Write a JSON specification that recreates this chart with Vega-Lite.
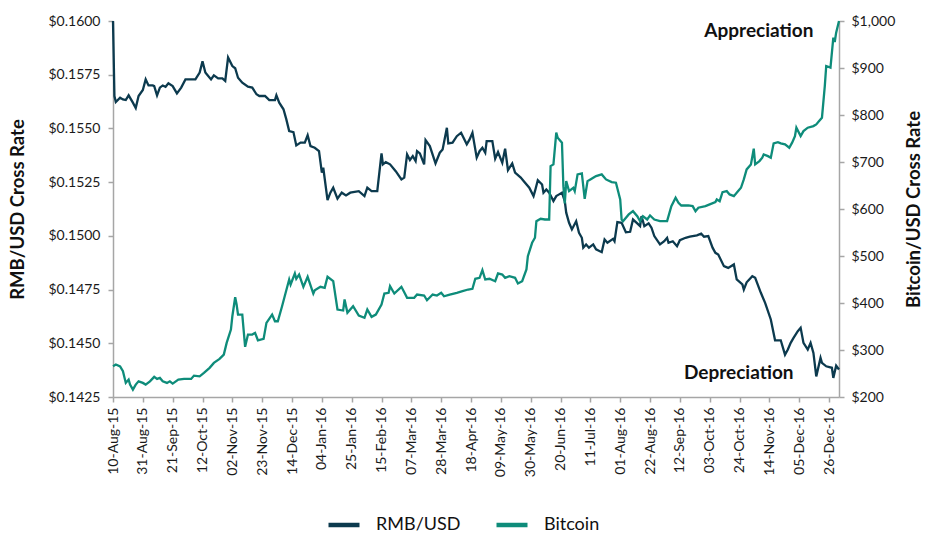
{
  "$schema": "https://vega.github.io/schema/vega-lite/v6.json",
  "width": 726,
  "height": 376,
  "autosize": {"type": "none"},
  "padding": {"left": 113, "top": 21, "right": 87, "bottom": 137},
  "background": "white",
  "config": {
    "font": "Lato",
    "view": {"stroke": null},
    "axis": {
      "grid": false,
      "domainColor": "#a6a6a6",
      "domainWidth": 1.5,
      "tickColor": "#a6a6a6",
      "tickWidth": 1.5,
      "tickSize": 5,
      "labelFont": "Lato",
      "labelFontSize": 14,
      "labelColor": "#1a1a1a",
      "titleFont": "Lato",
      "titleFontSize": 18.5,
      "titleFontWeight": "bold",
      "titleColor": "#111111"
    },
    "legend": {"labelFont": "Lato"}
  },
  "datasets": {
    "rmb": [
      {"date": "2015-08-10", "series": "RMB/USD", "value": 0.16},
      {"date": "2015-08-11", "series": "RMB/USD", "value": 0.15651},
      {"date": "2015-08-12", "series": "RMB/USD", "value": 0.15623},
      {"date": "2015-08-15", "series": "RMB/USD", "value": 0.15643},
      {"date": "2015-08-17", "series": "RMB/USD", "value": 0.15635},
      {"date": "2015-08-19", "series": "RMB/USD", "value": 0.15632},
      {"date": "2015-08-21", "series": "RMB/USD", "value": 0.15654},
      {"date": "2015-08-24", "series": "RMB/USD", "value": 0.1562},
      {"date": "2015-08-26", "series": "RMB/USD", "value": 0.15595},
      {"date": "2015-08-28", "series": "RMB/USD", "value": 0.15651},
      {"date": "2015-08-31", "series": "RMB/USD", "value": 0.15679},
      {"date": "2015-09-02", "series": "RMB/USD", "value": 0.15728},
      {"date": "2015-09-04", "series": "RMB/USD", "value": 0.157},
      {"date": "2015-09-07", "series": "RMB/USD", "value": 0.157},
      {"date": "2015-09-08", "series": "RMB/USD", "value": 0.15697},
      {"date": "2015-09-10", "series": "RMB/USD", "value": 0.15654},
      {"date": "2015-09-12", "series": "RMB/USD", "value": 0.1569},
      {"date": "2015-09-14", "series": "RMB/USD", "value": 0.157},
      {"date": "2015-09-16", "series": "RMB/USD", "value": 0.15694},
      {"date": "2015-09-18", "series": "RMB/USD", "value": 0.1571},
      {"date": "2015-09-21", "series": "RMB/USD", "value": 0.15697},
      {"date": "2015-09-24", "series": "RMB/USD", "value": 0.15663},
      {"date": "2015-09-27", "series": "RMB/USD", "value": 0.1569},
      {"date": "2015-09-30", "series": "RMB/USD", "value": 0.15728},
      {"date": "2015-10-04", "series": "RMB/USD", "value": 0.15728},
      {"date": "2015-10-07", "series": "RMB/USD", "value": 0.15728},
      {"date": "2015-10-10", "series": "RMB/USD", "value": 0.1576},
      {"date": "2015-10-12", "series": "RMB/USD", "value": 0.15812},
      {"date": "2015-10-14", "series": "RMB/USD", "value": 0.1576},
      {"date": "2015-10-15", "series": "RMB/USD", "value": 0.15752},
      {"date": "2015-10-18", "series": "RMB/USD", "value": 0.15728},
      {"date": "2015-10-20", "series": "RMB/USD", "value": 0.15747},
      {"date": "2015-10-23", "series": "RMB/USD", "value": 0.15733},
      {"date": "2015-10-26", "series": "RMB/USD", "value": 0.15733},
      {"date": "2015-10-28", "series": "RMB/USD", "value": 0.15721},
      {"date": "2015-10-30", "series": "RMB/USD", "value": 0.1583},
      {"date": "2015-11-02", "series": "RMB/USD", "value": 0.1579},
      {"date": "2015-11-04", "series": "RMB/USD", "value": 0.1578},
      {"date": "2015-11-06", "series": "RMB/USD", "value": 0.15736},
      {"date": "2015-11-09", "series": "RMB/USD", "value": 0.15713},
      {"date": "2015-11-13", "series": "RMB/USD", "value": 0.15694},
      {"date": "2015-11-16", "series": "RMB/USD", "value": 0.1569},
      {"date": "2015-11-19", "series": "RMB/USD", "value": 0.15659},
      {"date": "2015-11-21", "series": "RMB/USD", "value": 0.15651},
      {"date": "2015-11-25", "series": "RMB/USD", "value": 0.15651},
      {"date": "2015-11-28", "series": "RMB/USD", "value": 0.15632},
      {"date": "2015-12-02", "series": "RMB/USD", "value": 0.15632},
      {"date": "2015-12-03", "series": "RMB/USD", "value": 0.15654},
      {"date": "2015-12-05", "series": "RMB/USD", "value": 0.1562},
      {"date": "2015-12-08", "series": "RMB/USD", "value": 0.15589},
      {"date": "2015-12-10", "series": "RMB/USD", "value": 0.15542},
      {"date": "2015-12-12", "series": "RMB/USD", "value": 0.15488},
      {"date": "2015-12-15", "series": "RMB/USD", "value": 0.15483},
      {"date": "2015-12-17", "series": "RMB/USD", "value": 0.15421},
      {"date": "2015-12-20", "series": "RMB/USD", "value": 0.15434},
      {"date": "2015-12-23", "series": "RMB/USD", "value": 0.15434},
      {"date": "2015-12-25", "series": "RMB/USD", "value": 0.15468},
      {"date": "2015-12-27", "series": "RMB/USD", "value": 0.15418},
      {"date": "2015-12-30", "series": "RMB/USD", "value": 0.1541},
      {"date": "2016-01-02", "series": "RMB/USD", "value": 0.15394},
      {"date": "2016-01-04", "series": "RMB/USD", "value": 0.15294},
      {"date": "2016-01-05", "series": "RMB/USD", "value": 0.15317},
      {"date": "2016-01-08", "series": "RMB/USD", "value": 0.15166},
      {"date": "2016-01-10", "series": "RMB/USD", "value": 0.15201},
      {"date": "2016-01-12", "series": "RMB/USD", "value": 0.15224},
      {"date": "2016-01-15", "series": "RMB/USD", "value": 0.15173},
      {"date": "2016-01-18", "series": "RMB/USD", "value": 0.15201},
      {"date": "2016-01-21", "series": "RMB/USD", "value": 0.15188},
      {"date": "2016-01-24", "series": "RMB/USD", "value": 0.15201},
      {"date": "2016-01-30", "series": "RMB/USD", "value": 0.15208},
      {"date": "2016-02-03", "series": "RMB/USD", "value": 0.15185},
      {"date": "2016-02-05", "series": "RMB/USD", "value": 0.15224},
      {"date": "2016-02-08", "series": "RMB/USD", "value": 0.15208},
      {"date": "2016-02-12", "series": "RMB/USD", "value": 0.15208},
      {"date": "2016-02-15", "series": "RMB/USD", "value": 0.15384},
      {"date": "2016-02-16", "series": "RMB/USD", "value": 0.15333},
      {"date": "2016-02-18", "series": "RMB/USD", "value": 0.15343},
      {"date": "2016-02-21", "series": "RMB/USD", "value": 0.15333},
      {"date": "2016-02-25", "series": "RMB/USD", "value": 0.15301},
      {"date": "2016-02-29", "series": "RMB/USD", "value": 0.15263},
      {"date": "2016-03-02", "series": "RMB/USD", "value": 0.15271},
      {"date": "2016-03-04", "series": "RMB/USD", "value": 0.15379},
      {"date": "2016-03-06", "series": "RMB/USD", "value": 0.15353},
      {"date": "2016-03-08", "series": "RMB/USD", "value": 0.15371},
      {"date": "2016-03-10", "series": "RMB/USD", "value": 0.15348},
      {"date": "2016-03-11", "series": "RMB/USD", "value": 0.15394},
      {"date": "2016-03-13", "series": "RMB/USD", "value": 0.15384},
      {"date": "2016-03-16", "series": "RMB/USD", "value": 0.15333},
      {"date": "2016-03-17", "series": "RMB/USD", "value": 0.15446},
      {"date": "2016-03-20", "series": "RMB/USD", "value": 0.15418},
      {"date": "2016-03-24", "series": "RMB/USD", "value": 0.15337},
      {"date": "2016-03-27", "series": "RMB/USD", "value": 0.15387},
      {"date": "2016-03-29", "series": "RMB/USD", "value": 0.15402},
      {"date": "2016-04-01", "series": "RMB/USD", "value": 0.15503},
      {"date": "2016-04-02", "series": "RMB/USD", "value": 0.1543},
      {"date": "2016-04-05", "series": "RMB/USD", "value": 0.15434},
      {"date": "2016-04-08", "series": "RMB/USD", "value": 0.15464},
      {"date": "2016-04-11", "series": "RMB/USD", "value": 0.1548},
      {"date": "2016-04-15", "series": "RMB/USD", "value": 0.15426},
      {"date": "2016-04-17", "series": "RMB/USD", "value": 0.15449},
      {"date": "2016-04-19", "series": "RMB/USD", "value": 0.1548},
      {"date": "2016-04-22", "series": "RMB/USD", "value": 0.15364},
      {"date": "2016-04-24", "series": "RMB/USD", "value": 0.15394},
      {"date": "2016-04-26", "series": "RMB/USD", "value": 0.1541},
      {"date": "2016-04-28", "series": "RMB/USD", "value": 0.15387},
      {"date": "2016-04-29", "series": "RMB/USD", "value": 0.15441},
      {"date": "2016-05-03", "series": "RMB/USD", "value": 0.15441},
      {"date": "2016-05-05", "series": "RMB/USD", "value": 0.15359},
      {"date": "2016-05-07", "series": "RMB/USD", "value": 0.1539},
      {"date": "2016-05-10", "series": "RMB/USD", "value": 0.1534},
      {"date": "2016-05-12", "series": "RMB/USD", "value": 0.15406},
      {"date": "2016-05-14", "series": "RMB/USD", "value": 0.15306},
      {"date": "2016-05-17", "series": "RMB/USD", "value": 0.15337},
      {"date": "2016-05-19", "series": "RMB/USD", "value": 0.15294},
      {"date": "2016-05-23", "series": "RMB/USD", "value": 0.15271},
      {"date": "2016-05-25", "series": "RMB/USD", "value": 0.15255},
      {"date": "2016-05-29", "series": "RMB/USD", "value": 0.15224},
      {"date": "2016-06-01", "series": "RMB/USD", "value": 0.15185},
      {"date": "2016-06-02", "series": "RMB/USD", "value": 0.15208},
      {"date": "2016-06-04", "series": "RMB/USD", "value": 0.15259},
      {"date": "2016-06-07", "series": "RMB/USD", "value": 0.15239},
      {"date": "2016-06-08", "series": "RMB/USD", "value": 0.15201},
      {"date": "2016-06-10", "series": "RMB/USD", "value": 0.15216},
      {"date": "2016-06-12", "series": "RMB/USD", "value": 0.15201},
      {"date": "2016-06-15", "series": "RMB/USD", "value": 0.15162},
      {"date": "2016-06-17", "series": "RMB/USD", "value": 0.15185},
      {"date": "2016-06-19", "series": "RMB/USD", "value": 0.15193},
      {"date": "2016-06-21", "series": "RMB/USD", "value": 0.15201},
      {"date": "2016-06-23", "series": "RMB/USD", "value": 0.15162},
      {"date": "2016-06-24", "series": "RMB/USD", "value": 0.15108},
      {"date": "2016-06-26", "series": "RMB/USD", "value": 0.15061},
      {"date": "2016-06-28", "series": "RMB/USD", "value": 0.1503},
      {"date": "2016-07-01", "series": "RMB/USD", "value": 0.15068},
      {"date": "2016-07-03", "series": "RMB/USD", "value": 0.15014},
      {"date": "2016-07-05", "series": "RMB/USD", "value": 0.14991},
      {"date": "2016-07-06", "series": "RMB/USD", "value": 0.14945},
      {"date": "2016-07-08", "series": "RMB/USD", "value": 0.1496},
      {"date": "2016-07-10", "series": "RMB/USD", "value": 0.14945},
      {"date": "2016-07-13", "series": "RMB/USD", "value": 0.1496},
      {"date": "2016-07-15", "series": "RMB/USD", "value": 0.14937},
      {"date": "2016-07-19", "series": "RMB/USD", "value": 0.14924},
      {"date": "2016-07-21", "series": "RMB/USD", "value": 0.14983},
      {"date": "2016-07-23", "series": "RMB/USD", "value": 0.14968},
      {"date": "2016-07-27", "series": "RMB/USD", "value": 0.14986},
      {"date": "2016-07-28", "series": "RMB/USD", "value": 0.14975},
      {"date": "2016-07-30", "series": "RMB/USD", "value": 0.15064},
      {"date": "2016-08-02", "series": "RMB/USD", "value": 0.15061},
      {"date": "2016-08-05", "series": "RMB/USD", "value": 0.15017},
      {"date": "2016-08-08", "series": "RMB/USD", "value": 0.15019},
      {"date": "2016-08-10", "series": "RMB/USD", "value": 0.15076},
      {"date": "2016-08-13", "series": "RMB/USD", "value": 0.15058},
      {"date": "2016-08-15", "series": "RMB/USD", "value": 0.15045},
      {"date": "2016-08-16", "series": "RMB/USD", "value": 0.15092},
      {"date": "2016-08-18", "series": "RMB/USD", "value": 0.15045},
      {"date": "2016-08-21", "series": "RMB/USD", "value": 0.15058},
      {"date": "2016-08-23", "series": "RMB/USD", "value": 0.15038},
      {"date": "2016-08-25", "series": "RMB/USD", "value": 0.14999},
      {"date": "2016-08-29", "series": "RMB/USD", "value": 0.1496},
      {"date": "2016-09-01", "series": "RMB/USD", "value": 0.14975},
      {"date": "2016-09-03", "series": "RMB/USD", "value": 0.14991},
      {"date": "2016-09-04", "series": "RMB/USD", "value": 0.14968},
      {"date": "2016-09-07", "series": "RMB/USD", "value": 0.14975},
      {"date": "2016-09-10", "series": "RMB/USD", "value": 0.14952},
      {"date": "2016-09-12", "series": "RMB/USD", "value": 0.1498},
      {"date": "2016-09-16", "series": "RMB/USD", "value": 0.14991},
      {"date": "2016-09-19", "series": "RMB/USD", "value": 0.14996},
      {"date": "2016-09-24", "series": "RMB/USD", "value": 0.15002},
      {"date": "2016-09-27", "series": "RMB/USD", "value": 0.1501},
      {"date": "2016-09-29", "series": "RMB/USD", "value": 0.14996},
      {"date": "2016-10-02", "series": "RMB/USD", "value": 0.14999},
      {"date": "2016-10-05", "series": "RMB/USD", "value": 0.14945},
      {"date": "2016-10-07", "series": "RMB/USD", "value": 0.14921},
      {"date": "2016-10-09", "series": "RMB/USD", "value": 0.14913},
      {"date": "2016-10-13", "series": "RMB/USD", "value": 0.14859},
      {"date": "2016-10-16", "series": "RMB/USD", "value": 0.14851},
      {"date": "2016-10-20", "series": "RMB/USD", "value": 0.14867},
      {"date": "2016-10-22", "series": "RMB/USD", "value": 0.14797},
      {"date": "2016-10-26", "series": "RMB/USD", "value": 0.14774},
      {"date": "2016-10-27", "series": "RMB/USD", "value": 0.1475},
      {"date": "2016-10-29", "series": "RMB/USD", "value": 0.14784},
      {"date": "2016-11-02", "series": "RMB/USD", "value": 0.14812},
      {"date": "2016-11-04", "series": "RMB/USD", "value": 0.14805},
      {"date": "2016-11-08", "series": "RMB/USD", "value": 0.14735},
      {"date": "2016-11-11", "series": "RMB/USD", "value": 0.14688},
      {"date": "2016-11-15", "series": "RMB/USD", "value": 0.14611},
      {"date": "2016-11-18", "series": "RMB/USD", "value": 0.14514},
      {"date": "2016-11-22", "series": "RMB/USD", "value": 0.14514},
      {"date": "2016-11-25", "series": "RMB/USD", "value": 0.14447},
      {"date": "2016-11-27", "series": "RMB/USD", "value": 0.14471},
      {"date": "2016-11-29", "series": "RMB/USD", "value": 0.14502},
      {"date": "2016-12-01", "series": "RMB/USD", "value": 0.14525},
      {"date": "2016-12-04", "series": "RMB/USD", "value": 0.14556},
      {"date": "2016-12-06", "series": "RMB/USD", "value": 0.14572},
      {"date": "2016-12-08", "series": "RMB/USD", "value": 0.14502},
      {"date": "2016-12-11", "series": "RMB/USD", "value": 0.14471},
      {"date": "2016-12-13", "series": "RMB/USD", "value": 0.14502},
      {"date": "2016-12-15", "series": "RMB/USD", "value": 0.14455},
      {"date": "2016-12-17", "series": "RMB/USD", "value": 0.14346},
      {"date": "2016-12-20", "series": "RMB/USD", "value": 0.14432},
      {"date": "2016-12-21", "series": "RMB/USD", "value": 0.14409},
      {"date": "2016-12-24", "series": "RMB/USD", "value": 0.14393},
      {"date": "2016-12-28", "series": "RMB/USD", "value": 0.14386},
      {"date": "2016-12-29", "series": "RMB/USD", "value": 0.14339},
      {"date": "2016-12-31", "series": "RMB/USD", "value": 0.14396},
      {"date": "2017-01-02", "series": "RMB/USD", "value": 0.14378}
    ],
    "btc": [
      {"date": "2015-08-10", "series": "Bitcoin", "value": 265.4},
      {"date": "2015-08-12", "series": "Bitcoin", "value": 269},
      {"date": "2015-08-15", "series": "Bitcoin", "value": 265},
      {"date": "2015-08-17", "series": "Bitcoin", "value": 254.7},
      {"date": "2015-08-19", "series": "Bitcoin", "value": 230},
      {"date": "2015-08-21", "series": "Bitcoin", "value": 237},
      {"date": "2015-08-22", "series": "Bitcoin", "value": 226.4},
      {"date": "2015-08-24", "series": "Bitcoin", "value": 215.7},
      {"date": "2015-08-26", "series": "Bitcoin", "value": 226.4},
      {"date": "2015-08-28", "series": "Bitcoin", "value": 233.4},
      {"date": "2015-08-31", "series": "Bitcoin", "value": 230},
      {"date": "2015-09-02", "series": "Bitcoin", "value": 226.4},
      {"date": "2015-09-05", "series": "Bitcoin", "value": 233.4},
      {"date": "2015-09-08", "series": "Bitcoin", "value": 242.8},
      {"date": "2015-09-10", "series": "Bitcoin", "value": 238.5},
      {"date": "2015-09-12", "series": "Bitcoin", "value": 240.6},
      {"date": "2015-09-14", "series": "Bitcoin", "value": 233.4},
      {"date": "2015-09-17", "series": "Bitcoin", "value": 230},
      {"date": "2015-09-19", "series": "Bitcoin", "value": 233.4},
      {"date": "2015-09-21", "series": "Bitcoin", "value": 228.5},
      {"date": "2015-09-25", "series": "Bitcoin", "value": 237},
      {"date": "2015-09-29", "series": "Bitcoin", "value": 238.5},
      {"date": "2015-10-04", "series": "Bitcoin", "value": 238.5},
      {"date": "2015-10-06", "series": "Bitcoin", "value": 245.5},
      {"date": "2015-10-10", "series": "Bitcoin", "value": 244},
      {"date": "2015-10-13", "series": "Bitcoin", "value": 251.3},
      {"date": "2015-10-17", "series": "Bitcoin", "value": 262},
      {"date": "2015-10-20", "series": "Bitcoin", "value": 272.6},
      {"date": "2015-10-24", "series": "Bitcoin", "value": 281.1},
      {"date": "2015-10-27", "series": "Bitcoin", "value": 290.3},
      {"date": "2015-10-29", "series": "Bitcoin", "value": 315.2},
      {"date": "2015-11-01", "series": "Bitcoin", "value": 343.5},
      {"date": "2015-11-02", "series": "Bitcoin", "value": 371.8},
      {"date": "2015-11-04", "series": "Bitcoin", "value": 412.3},
      {"date": "2015-11-05", "series": "Bitcoin", "value": 396.7},
      {"date": "2015-11-06", "series": "Bitcoin", "value": 375.4},
      {"date": "2015-11-09", "series": "Bitcoin", "value": 375.4},
      {"date": "2015-11-11", "series": "Bitcoin", "value": 306.7},
      {"date": "2015-11-13", "series": "Bitcoin", "value": 332.9},
      {"date": "2015-11-16", "series": "Bitcoin", "value": 332.9},
      {"date": "2015-11-18", "series": "Bitcoin", "value": 336.5},
      {"date": "2015-11-20", "series": "Bitcoin", "value": 320.7},
      {"date": "2015-11-24", "series": "Bitcoin", "value": 323.7},
      {"date": "2015-11-26", "series": "Bitcoin", "value": 357.8},
      {"date": "2015-11-30", "series": "Bitcoin", "value": 375.4},
      {"date": "2015-12-02", "series": "Bitcoin", "value": 361.2},
      {"date": "2015-12-04", "series": "Bitcoin", "value": 361.2},
      {"date": "2015-12-07", "series": "Bitcoin", "value": 393.1},
      {"date": "2015-12-09", "series": "Bitcoin", "value": 415.9},
      {"date": "2015-12-12", "series": "Bitcoin", "value": 450},
      {"date": "2015-12-13", "series": "Bitcoin", "value": 439.3},
      {"date": "2015-12-16", "series": "Bitcoin", "value": 462.8},
      {"date": "2015-12-17", "series": "Bitcoin", "value": 451.5},
      {"date": "2015-12-19", "series": "Bitcoin", "value": 460.6},
      {"date": "2015-12-22", "series": "Bitcoin", "value": 434.4},
      {"date": "2015-12-25", "series": "Bitcoin", "value": 455.7},
      {"date": "2015-12-29", "series": "Bitcoin", "value": 420.2},
      {"date": "2015-12-30", "series": "Bitcoin", "value": 427.2},
      {"date": "2016-01-03", "series": "Bitcoin", "value": 434.4},
      {"date": "2016-01-06", "series": "Bitcoin", "value": 432.3},
      {"date": "2016-01-08", "series": "Bitcoin", "value": 455.7},
      {"date": "2016-01-12", "series": "Bitcoin", "value": 446.4},
      {"date": "2016-01-15", "series": "Bitcoin", "value": 386.1},
      {"date": "2016-01-19", "series": "Bitcoin", "value": 384},
      {"date": "2016-01-20", "series": "Bitcoin", "value": 407.4},
      {"date": "2016-01-22", "series": "Bitcoin", "value": 379.1},
      {"date": "2016-01-26", "series": "Bitcoin", "value": 393.1},
      {"date": "2016-01-30", "series": "Bitcoin", "value": 373.3},
      {"date": "2016-02-03", "series": "Bitcoin", "value": 368.4},
      {"date": "2016-02-05", "series": "Bitcoin", "value": 386.1},
      {"date": "2016-02-08", "series": "Bitcoin", "value": 370.5},
      {"date": "2016-02-11", "series": "Bitcoin", "value": 375.4},
      {"date": "2016-02-15", "series": "Bitcoin", "value": 396.7},
      {"date": "2016-02-17", "series": "Bitcoin", "value": 420.2},
      {"date": "2016-02-20", "series": "Bitcoin", "value": 421.6},
      {"date": "2016-02-21", "series": "Bitcoin", "value": 435.7},
      {"date": "2016-02-24", "series": "Bitcoin", "value": 420.2},
      {"date": "2016-02-29", "series": "Bitcoin", "value": 434.4},
      {"date": "2016-03-02", "series": "Bitcoin", "value": 422.9},
      {"date": "2016-03-04", "series": "Bitcoin", "value": 411},
      {"date": "2016-03-09", "series": "Bitcoin", "value": 411},
      {"date": "2016-03-11", "series": "Bitcoin", "value": 418},
      {"date": "2016-03-16", "series": "Bitcoin", "value": 415.9},
      {"date": "2016-03-18", "series": "Bitcoin", "value": 405.9},
      {"date": "2016-03-22", "series": "Bitcoin", "value": 418},
      {"date": "2016-03-25", "series": "Bitcoin", "value": 415.9},
      {"date": "2016-03-28", "series": "Bitcoin", "value": 421.7},
      {"date": "2016-03-30", "series": "Bitcoin", "value": 414.4},
      {"date": "2016-04-03", "series": "Bitcoin", "value": 418},
      {"date": "2016-04-08", "series": "Bitcoin", "value": 421.7},
      {"date": "2016-04-12", "series": "Bitcoin", "value": 425.1},
      {"date": "2016-04-16", "series": "Bitcoin", "value": 428.7},
      {"date": "2016-04-19", "series": "Bitcoin", "value": 430.2},
      {"date": "2016-04-21", "series": "Bitcoin", "value": 451.5},
      {"date": "2016-04-24", "series": "Bitcoin", "value": 453.6},
      {"date": "2016-04-26", "series": "Bitcoin", "value": 469.8},
      {"date": "2016-04-28", "series": "Bitcoin", "value": 450},
      {"date": "2016-05-01", "series": "Bitcoin", "value": 451.5},
      {"date": "2016-05-05", "series": "Bitcoin", "value": 446.4},
      {"date": "2016-05-07", "series": "Bitcoin", "value": 462.8},
      {"date": "2016-05-10", "series": "Bitcoin", "value": 460.6},
      {"date": "2016-05-12", "series": "Bitcoin", "value": 453.6},
      {"date": "2016-05-15", "series": "Bitcoin", "value": 457},
      {"date": "2016-05-19", "series": "Bitcoin", "value": 453.6},
      {"date": "2016-05-21", "series": "Bitcoin", "value": 441.5},
      {"date": "2016-05-24", "series": "Bitcoin", "value": 446.4},
      {"date": "2016-05-27", "series": "Bitcoin", "value": 471.3},
      {"date": "2016-05-28", "series": "Bitcoin", "value": 499.6},
      {"date": "2016-05-31", "series": "Bitcoin", "value": 528.1},
      {"date": "2016-06-02", "series": "Bitcoin", "value": 538.8},
      {"date": "2016-06-03", "series": "Bitcoin", "value": 574.1},
      {"date": "2016-06-06", "series": "Bitcoin", "value": 579.2},
      {"date": "2016-06-09", "series": "Bitcoin", "value": 577.7},
      {"date": "2016-06-12", "series": "Bitcoin", "value": 577.7},
      {"date": "2016-06-13", "series": "Bitcoin", "value": 691.2},
      {"date": "2016-06-15", "series": "Bitcoin", "value": 694.9},
      {"date": "2016-06-17", "series": "Bitcoin", "value": 762.4},
      {"date": "2016-06-18", "series": "Bitcoin", "value": 751.7},
      {"date": "2016-06-21", "series": "Bitcoin", "value": 741.1},
      {"date": "2016-06-22", "series": "Bitcoin", "value": 648.6},
      {"date": "2016-06-23", "series": "Bitcoin", "value": 611.8},
      {"date": "2016-06-24", "series": "Bitcoin", "value": 659.3},
      {"date": "2016-06-26", "series": "Bitcoin", "value": 638},
      {"date": "2016-06-29", "series": "Bitcoin", "value": 645.2},
      {"date": "2016-06-30", "series": "Bitcoin", "value": 638},
      {"date": "2016-07-02", "series": "Bitcoin", "value": 673.6},
      {"date": "2016-07-05", "series": "Bitcoin", "value": 675.7},
      {"date": "2016-07-07", "series": "Bitcoin", "value": 621.8},
      {"date": "2016-07-09", "series": "Bitcoin", "value": 659.3},
      {"date": "2016-07-11", "series": "Bitcoin", "value": 662.9},
      {"date": "2016-07-13", "series": "Bitcoin", "value": 666.5},
      {"date": "2016-07-15", "series": "Bitcoin", "value": 670},
      {"date": "2016-07-19", "series": "Bitcoin", "value": 673.6},
      {"date": "2016-07-22", "series": "Bitcoin", "value": 662.9},
      {"date": "2016-07-26", "series": "Bitcoin", "value": 657.2},
      {"date": "2016-07-29", "series": "Bitcoin", "value": 655.9},
      {"date": "2016-08-01", "series": "Bitcoin", "value": 620.3},
      {"date": "2016-08-02", "series": "Bitcoin", "value": 577.7},
      {"date": "2016-08-03", "series": "Bitcoin", "value": 574.1},
      {"date": "2016-08-07", "series": "Bitcoin", "value": 588.4},
      {"date": "2016-08-10", "series": "Bitcoin", "value": 595.4},
      {"date": "2016-08-13", "series": "Bitcoin", "value": 584.8},
      {"date": "2016-08-15", "series": "Bitcoin", "value": 574.1},
      {"date": "2016-08-17", "series": "Bitcoin", "value": 584.8},
      {"date": "2016-08-20", "series": "Bitcoin", "value": 577.7},
      {"date": "2016-08-22", "series": "Bitcoin", "value": 586.3},
      {"date": "2016-08-25", "series": "Bitcoin", "value": 577.7},
      {"date": "2016-08-29", "series": "Bitcoin", "value": 574.1},
      {"date": "2016-09-03", "series": "Bitcoin", "value": 574.1},
      {"date": "2016-09-06", "series": "Bitcoin", "value": 606.1},
      {"date": "2016-09-09", "series": "Bitcoin", "value": 623.9},
      {"date": "2016-09-11", "series": "Bitcoin", "value": 613.3},
      {"date": "2016-09-13", "series": "Bitcoin", "value": 607.5},
      {"date": "2016-09-18", "series": "Bitcoin", "value": 607.5},
      {"date": "2016-09-21", "series": "Bitcoin", "value": 606.1},
      {"date": "2016-09-23", "series": "Bitcoin", "value": 595.4},
      {"date": "2016-09-25", "series": "Bitcoin", "value": 602.7},
      {"date": "2016-09-30", "series": "Bitcoin", "value": 606.1},
      {"date": "2016-10-03", "series": "Bitcoin", "value": 609.7},
      {"date": "2016-10-07", "series": "Bitcoin", "value": 614.6},
      {"date": "2016-10-08", "series": "Bitcoin", "value": 620.3},
      {"date": "2016-10-10", "series": "Bitcoin", "value": 616.7},
      {"date": "2016-10-12", "series": "Bitcoin", "value": 635.9},
      {"date": "2016-10-15", "series": "Bitcoin", "value": 638},
      {"date": "2016-10-17", "series": "Bitcoin", "value": 631},
      {"date": "2016-10-20", "series": "Bitcoin", "value": 627.4},
      {"date": "2016-10-22", "series": "Bitcoin", "value": 634.6},
      {"date": "2016-10-25", "series": "Bitcoin", "value": 645.2},
      {"date": "2016-10-27", "series": "Bitcoin", "value": 662.9},
      {"date": "2016-10-29", "series": "Bitcoin", "value": 684.2},
      {"date": "2016-11-01", "series": "Bitcoin", "value": 694.9},
      {"date": "2016-11-03", "series": "Bitcoin", "value": 728.3},
      {"date": "2016-11-04", "series": "Bitcoin", "value": 694.9},
      {"date": "2016-11-07", "series": "Bitcoin", "value": 701.9},
      {"date": "2016-11-09", "series": "Bitcoin", "value": 709.1},
      {"date": "2016-11-10", "series": "Bitcoin", "value": 716.2},
      {"date": "2016-11-13", "series": "Bitcoin", "value": 712.5},
      {"date": "2016-11-15", "series": "Bitcoin", "value": 709.1},
      {"date": "2016-11-17", "series": "Bitcoin", "value": 739.6},
      {"date": "2016-11-20", "series": "Bitcoin", "value": 742.3},
      {"date": "2016-11-22", "series": "Bitcoin", "value": 739.6},
      {"date": "2016-11-25", "series": "Bitcoin", "value": 737.4},
      {"date": "2016-11-28", "series": "Bitcoin", "value": 730.4},
      {"date": "2016-11-30", "series": "Bitcoin", "value": 741.1},
      {"date": "2016-12-02", "series": "Bitcoin", "value": 755.1},
      {"date": "2016-12-03", "series": "Bitcoin", "value": 773},
      {"date": "2016-12-06", "series": "Bitcoin", "value": 755.1},
      {"date": "2016-12-08", "series": "Bitcoin", "value": 765.8},
      {"date": "2016-12-11", "series": "Bitcoin", "value": 773},
      {"date": "2016-12-15", "series": "Bitcoin", "value": 776.4},
      {"date": "2016-12-17", "series": "Bitcoin", "value": 780},
      {"date": "2016-12-19", "series": "Bitcoin", "value": 787.1},
      {"date": "2016-12-21", "series": "Bitcoin", "value": 794.3},
      {"date": "2016-12-23", "series": "Bitcoin", "value": 861.6},
      {"date": "2016-12-24", "series": "Bitcoin", "value": 904.2},
      {"date": "2016-12-27", "series": "Bitcoin", "value": 900.8},
      {"date": "2016-12-29", "series": "Bitcoin", "value": 964.7},
      {"date": "2016-12-30", "series": "Bitcoin", "value": 955.3},
      {"date": "2016-12-31", "series": "Bitcoin", "value": 975.3},
      {"date": "2017-01-02", "series": "Bitcoin", "value": 1000}
    ]
  },
  "encoding": {
    "x": {
      "field": "date",
      "type": "temporal",
      "scale": {
        "type": "utc",
        "domain": [
          {"year": 2015, "month": 8, "date": 10, "utc": true},
          {"year": 2017, "month": 1, "date": 2, "utc": true}
        ]
      },
      "axis": {
        "title": null,
        "format": "%d-%b-%y",
        "labelAngle": 270,
        "labelPadding": 5,
        "labelOverlap": false,
        "labelFlush": false,
        "values": [
          {"year": 2015, "month": 8, "date": 10, "utc": true},
          {"year": 2015, "month": 8, "date": 31, "utc": true},
          {"year": 2015, "month": 9, "date": 21, "utc": true},
          {"year": 2015, "month": 10, "date": 12, "utc": true},
          {"year": 2015, "month": 11, "date": 2, "utc": true},
          {"year": 2015, "month": 11, "date": 23, "utc": true},
          {"year": 2015, "month": 12, "date": 14, "utc": true},
          {"year": 2016, "month": 1, "date": 4, "utc": true},
          {"year": 2016, "month": 1, "date": 25, "utc": true},
          {"year": 2016, "month": 2, "date": 15, "utc": true},
          {"year": 2016, "month": 3, "date": 7, "utc": true},
          {"year": 2016, "month": 3, "date": 28, "utc": true},
          {"year": 2016, "month": 4, "date": 18, "utc": true},
          {"year": 2016, "month": 5, "date": 9, "utc": true},
          {"year": 2016, "month": 5, "date": 30, "utc": true},
          {"year": 2016, "month": 6, "date": 20, "utc": true},
          {"year": 2016, "month": 7, "date": 11, "utc": true},
          {"year": 2016, "month": 8, "date": 1, "utc": true},
          {"year": 2016, "month": 8, "date": 22, "utc": true},
          {"year": 2016, "month": 9, "date": 12, "utc": true},
          {"year": 2016, "month": 10, "date": 3, "utc": true},
          {"year": 2016, "month": 10, "date": 24, "utc": true},
          {"year": 2016, "month": 11, "date": 14, "utc": true},
          {"year": 2016, "month": 12, "date": 5, "utc": true},
          {"year": 2016, "month": 12, "date": 26, "utc": true}
        ]
      }
    }
  },
  "layer": [
    {
      "data": {"name": "rmb"},
      "encoding": {
        "y": {
          "field": "value",
          "type": "quantitative",
          "scale": {"domain": [0.1425, 0.16], "nice": false, "zero": false},
          "axis": {
            "orient": "left",
            "title": "RMB/USD Cross Rate",
            "format": "$.4f",
            "values": [0.1425, 0.145, 0.1475, 0.15, 0.1525, 0.155, 0.1575, 0.16],
            "labelPadding": 8,
            "titlePadding": 20
          }
        }
      },
      "layer": [
        {
          "mark": {"type": "line", "strokeWidth": 2.3, "interpolate": "linear"},
          "encoding": {
            "color": {
              "field": "series",
              "type": "nominal",
              "scale": {"domain": ["RMB/USD", "Bitcoin"], "range": ["#0c3a4e", "#0e8c7a"]},
              "legend": {
                "orient": "none",
                "direction": "horizontal",
                "legendX": 213,
                "legendY": 486,
                "title": null,
                "padding": 0,
                "symbolType": "stroke",
                "symbolStrokeWidth": 4.5,
                "symbolSize": 961,
                "labelFontSize": 18,
                "labelColor": "#111111",
                "labelOffset": 14,
                "columnPadding": 26
              }
            }
          }
        },
        {
          "data": {"values": [{"date": "2016-12-01", "value": 0.14364, "note": "Depreciation"}]},
          "mark": {"type": "text", "align": "right", "baseline": "middle", "fontSize": 19, "fontWeight": "bold", "color": "#111111"},
          "encoding": {"text": {"field": "note"}}
        }
      ]
    },
    {
      "data": {"name": "btc"},
      "encoding": {
        "y": {
          "field": "value",
          "type": "quantitative",
          "scale": {"domain": [200, 1000], "nice": false, "zero": false},
          "axis": {
            "orient": "right",
            "title": "Bitcoin/USD Cross Rate",
            "titleAngle": 270,
            "titleBaseline": "top",
            "format": "$,.0f",
            "values": [200, 300, 400, 500, 600, 700, 800, 900, 1000],
            "labelPadding": 7,
            "titlePadding": 10
          }
        }
      },
      "layer": [
        {
          "mark": {"type": "line", "strokeWidth": 2.3, "interpolate": "linear"},
          "encoding": {
            "color": {
              "field": "series",
              "type": "nominal",
              "scale": {"domain": ["RMB/USD", "Bitcoin"], "range": ["#0c3a4e", "#0e8c7a"]},
              "legend": {
                "orient": "none",
                "direction": "horizontal",
                "legendX": 213,
                "legendY": 486,
                "title": null,
                "padding": 0,
                "symbolType": "stroke",
                "symbolStrokeWidth": 4.5,
                "symbolSize": 961,
                "labelFontSize": 18,
                "labelColor": "#111111",
                "labelOffset": 14,
                "columnPadding": 26
              }
            }
          }
        },
        {
          "data": {"values": [{"date": "2016-12-15", "value": 978, "note": "Appreciation"}]},
          "mark": {"type": "text", "align": "right", "baseline": "middle", "fontSize": 19, "fontWeight": "bold", "color": "#111111"},
          "encoding": {"text": {"field": "note"}}
        }
      ]
    }
  ],
  "resolve": {"scale": {"y": "independent"}}
}
